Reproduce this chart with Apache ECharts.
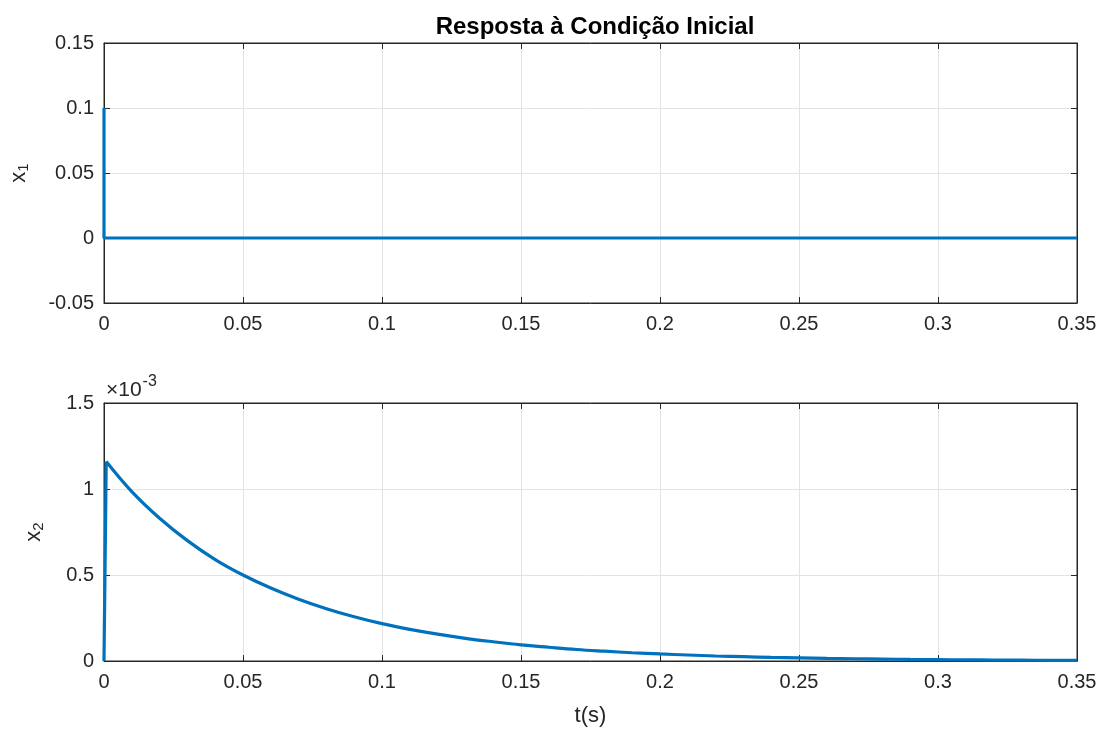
<!DOCTYPE html>
<html>
<head>
<meta charset="utf-8">
<script src="https://cdn.jsdelivr.net/npm/echarts@6/dist/echarts.min.js"></script>
<style>
html,body{margin:0;padding:0;background:#fff;}
#chart{width:1107px;height:731px;}
</style>
</head>
<body>
<div id="chart"></div>
<script>
// Data
const titleText = 'Resposta à Condição Inicial';
const xTicks = [0, 0.05, 0.1, 0.15, 0.2, 0.25, 0.3, 0.35];
const x1Ticks = [-0.05, 0, 0.05, 0.1, 0.15];
const x2Ticks = [0, 0.5, 1, 1.5]; // ×10^-3
// x1 response (t, x1)
const x1T = [0, 0, 0.35];
const x1V = [0.1, 0, 0];
// x2 response (t, x2 in units of 1e-3)
const x2T = [0, 0.0008, 0.01, 0.02, 0.03, 0.04, 0.05, 0.06, 0.07, 0.08, 0.09, 0.10,
  0.11, 0.12, 0.13, 0.14, 0.15, 0.16, 0.17, 0.18, 0.19, 0.20, 0.21, 0.22, 0.23, 0.24, 0.25,
  0.26, 0.27, 0.28, 0.29, 0.30, 0.31, 0.32, 0.33, 0.34, 0.35];
const x2V = [0, 1.16, 0.985, 0.83, 0.70, 0.59, 0.50, 0.424, 0.359, 0.304, 0.257, 0.217,
  0.184, 0.156, 0.132, 0.112, 0.094, 0.080, 0.067, 0.057, 0.048, 0.041, 0.035, 0.029, 0.025, 0.021, 0.018,
  0.015, 0.013, 0.011, 0.0092, 0.0078, 0.0066, 0.0056, 0.0047, 0.004, 0.0034];

const x1Data = x1T.map((t, i) => [t, x1V[i]]);
const x2Data = x2T.map((t, i) => [t, x2V[i]]);

const txt = '#262626';
const gridCol = '#e3e3e3';
const lineCol = '#0072bd';
const font = 'Liberation Sans, Arial, Helvetica, sans-serif';
const fs = 20;

function fmt(v){ return String(+v.toFixed(4)); }

function xAx(gi, pos, labels){
  return {
    type: 'value', gridIndex: gi, position: pos, min: 0, max: 0.35, interval: 0.05,
    axisLine: {show: true, onZero: false, lineStyle: {color: txt, width: 1}},
    axisTick: {show: true, inside: true, length: 6, lineStyle: {color: txt}},
    axisLabel: {show: labels, color: txt, fontSize: fs, fontFamily: font, margin: 11, formatter: fmt},
    splitLine: {show: labels, lineStyle: {color: gridCol, width: 1}},
    name: (labels && gi === 1) ? 't(s)' : '',
    nameLocation: 'middle', nameGap: 44,
    nameTextStyle: {color: txt, fontSize: 22, fontFamily: font}
  };
}
function yAx(gi, pos, labels, mn, mx, iv, nm, gap){
  return {
    type: 'value', gridIndex: gi, position: pos, min: mn, max: mx, interval: iv,
    axisLine: {show: true, onZero: false, lineStyle: {color: txt, width: 1}},
    axisTick: {show: true, inside: true, length: 6, lineStyle: {color: txt}},
    axisLabel: {show: labels, color: txt, fontSize: fs, fontFamily: font, margin: 10, formatter: fmt},
    splitLine: {show: labels, lineStyle: {color: gridCol, width: 1}},
    name: labels ? nm : '',
    nameLocation: 'middle', nameGap: gap || 60, nameRotate: 90,
    nameTextStyle: {
      color: txt, fontFamily: font,
      rich: {
        a: {fontSize: 22, color: txt, fontFamily: font},
        b: {fontSize: 15, color: txt, fontFamily: font, padding: [10, 0, 0, 0]}
      }
    }
  };
}

const chart = echarts.init(document.getElementById('chart'));
chart.setOption({
  backgroundColor: '#ffffff',
  animation: false,
  title: {
    text: titleText, left: 590, top: 10, textAlign: 'center',
    textStyle: {color: '#000', fontSize: 24, fontWeight: 'bold', fontFamily: font}
  },
  grid: [
    {left: 104, right: 30, top: 43, height: 260, show: true, borderColor: txt, borderWidth: 1,
     backgroundColor: '#fff', containLabel: false, outerBoundsMode: 'none'},
    {left: 104, right: 30, top: 403, height: 258, show: true, borderColor: txt, borderWidth: 1,
     backgroundColor: '#fff', containLabel: false, outerBoundsMode: 'none'}
  ],
  xAxis: [
    xAx(0, 'bottom', true), xAx(0, 'top', false),
    xAx(1, 'bottom', true), xAx(1, 'top', false)
  ],
  yAxis: [
    yAx(0, 'left', true, -0.05, 0.15, 0.05, '{a|x}{b|1}', 73), yAx(0, 'right', false, -0.05, 0.15, 0.05, ''),
    yAx(1, 'left', true, 0, 1.5, 0.5, '{a|x}{b|2}', 58), yAx(1, 'right', false, 0, 1.5, 0.5, '')
  ],
  graphic: [{
    type: 'text', left: 106, top: 374,
    style: {
      text: '{a|×10}{b|-3}',
      rich: {
        a: {fontSize: 21, fill: txt, fontFamily: font, padding: [8, 0, 0, 0]},
        b: {fontSize: 16, fill: txt, fontFamily: font, padding: [0, 0, 8, 1]}
      }
    }
  }],
  series: [
    {type: 'line', xAxisIndex: 0, yAxisIndex: 0, data: x1Data, showSymbol: false, symbol: 'none',
     lineStyle: {color: lineCol, width: 3.2}, clip: false},
    {type: 'line', xAxisIndex: 2, yAxisIndex: 2, data: x2Data.slice(0, 2), showSymbol: false, symbol: 'none',
     lineStyle: {color: lineCol, width: 3.2}, clip: false},
    {type: 'line', xAxisIndex: 2, yAxisIndex: 2, data: x2Data.slice(1), showSymbol: false, symbol: 'none',
     smooth: 0.4, lineStyle: {color: lineCol, width: 3.2}, clip: false}
  ]
});
</script>
</body>
</html>
